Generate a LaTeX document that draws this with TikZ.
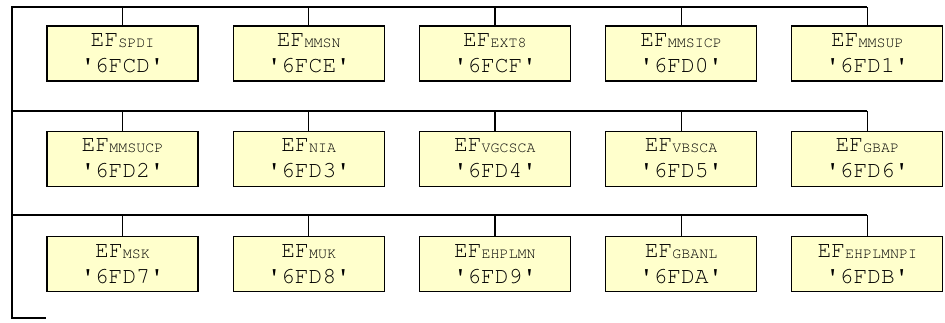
\documentclass[tikz,border=0pt]{standalone}
\usepackage[T1]{fontenc}
\usepackage{xcolor}
\usepackage{tikz}
\usetikzlibrary{positioning,calc}
\definecolor{cream}{HTML}{FFFFCC}
\newcommand{\efcode}[2]{EF\raisebox{-1pt}{\fontsize{15}{15}\selectfont #1}\\\textquotesingle#2\textquotesingle}

\begin{document}
\begin{tikzpicture}[
    x=1pt, y=-1pt,
    node distance=49pt and 34pt,
    efbox/.style={rectangle, draw=black, fill=cream, line width=1.2pt,
                  minimum width=151pt, minimum height=55pt, align=center,
                  inner sep=0pt,
                  font=\fontencoding{T1}\fontfamily{pcr}\fontsize{23}{26}\selectfont},
    wire/.style={line width=1.2pt, color=black},
]
\useasboundingbox (0,0) rectangle (945,323);
% row 1
\node[efbox] (spdi) at (122.5,53.5) {\efcode{SPDI}{6FCD}};
\node[efbox, right=of spdi] (mmsn) {\efcode{MMSN}{6FCE}};
\node[efbox, right=of mmsn] (ext8) {\efcode{EXT8}{6FCF}};
\node[efbox, right=of ext8] (mmsicp) {\efcode{MMSICP}{6FD0}};
\node[efbox, right=of mmsicp] (mmsup) {\efcode{MMSUP}{6FD1}};
% row 2
\node[efbox, below=of spdi] (mmsucp) {\efcode{MMSUCP}{6FD2}};
\node[efbox, right=of mmsucp] (nia) {\efcode{NIA}{6FD3}};
\node[efbox, right=of nia] (vgcsca) {\efcode{VGCSCA}{6FD4}};
\node[efbox, right=of vgcsca] (vbsca) {\efcode{VBSCA}{6FD5}};
\node[efbox, right=of vbsca] (gbap) {\efcode{GBAP}{6FD6}};
% row 3
\node[efbox, below=of mmsucp] (msk) {\efcode{MSK}{6FD7}};
\node[efbox, right=of msk] (muk) {\efcode{MUK}{6FD8}};
\node[efbox, right=of muk] (ehplmn) {\efcode{EHPLMN}{6FD9}};
\node[efbox, right=of ehplmn] (gbanl) {\efcode{GBANL}{6FDA}};
\node[efbox, right=of gbanl] (ehplmnpi) {\efcode{EHPLMNPI}{6FDB}};
% bus lines
\coordinate (bus1) at (12,7);
\coordinate (bus2) at (12,111);
\coordinate (bus3) at (12,215);
\coordinate (tail) at (12,318);
\draw[wire] (bus1 -| mmsup.north) -- (bus1) -- (tail) -- (tail -| msk.west);
\draw[wire] (bus2) -- (bus2 -| gbap.north);
\draw[wire] (bus3) -- (bus3 -| ehplmnpi.north);
\draw[wire] (spdi.north) -- (spdi.north |- bus1)
            (mmsn.north) -- (mmsn.north |- bus1)
            (ext8.north) -- (ext8.north |- bus1)
            (mmsicp.north) -- (mmsicp.north |- bus1)
            (mmsup.north) -- (mmsup.north |- bus1);
\draw[wire] (mmsucp.north) -- (mmsucp.north |- bus2)
            (nia.north) -- (nia.north |- bus2)
            (vgcsca.north) -- (vgcsca.north |- bus2)
            (vbsca.north) -- (vbsca.north |- bus2)
            (gbap.north) -- (gbap.north |- bus2);
\draw[wire] (msk.north) -- (msk.north |- bus3)
            (muk.north) -- (muk.north |- bus3)
            (ehplmn.north) -- (ehplmn.north |- bus3)
            (gbanl.north) -- (gbanl.north |- bus3)
            (ehplmnpi.north) -- (ehplmnpi.north |- bus3);
\end{tikzpicture}
\end{document}
